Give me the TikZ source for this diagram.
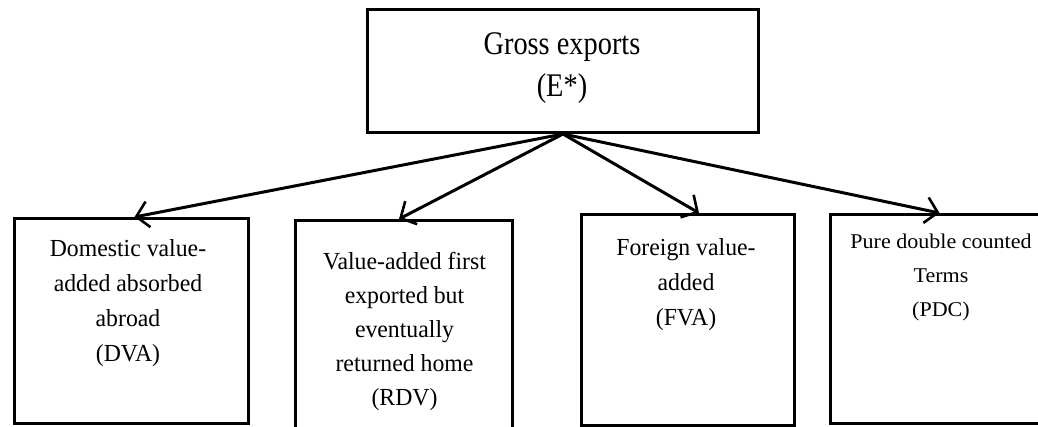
\documentclass[tikz,border=0pt]{standalone}
\usepackage{fontspec}
\setmainfont{Liberation Serif}
\newfontfamily\topfont[FakeStretch=0.86]{Liberation Serif}
\newfontfamily\boxfont[FakeStretch=0.97]{Liberation Serif}
\newfontfamily\pdcfont[FakeStretch=1.05]{Liberation Serif}
\usetikzlibrary{arrows.meta}
\tikzset{
  boxshape/.style={draw=black, line width=3pt, rectangle, inner sep=0pt, anchor=north west},
  toptext/.style={inner sep=0pt, anchor=north, align=center, font=\topfont\fontsize{33}{42}\selectfont},
  boxtext/.style={inner sep=0pt, anchor=north, align=center, font=\boxfont\fontsize{24.5}{35}\selectfont},
  boxtextb/.style={inner sep=0pt, anchor=north, align=center, font=\boxfont\fontsize{24.5}{34}\selectfont},
  pdctext/.style={inner sep=0pt, anchor=north, align=center, font=\pdcfont\fontsize{21}{34}\selectfont},
  arr/.style={draw=black, line width=3pt, -{Straight Barb[length=12pt,width=26pt,line width=2.6pt]}}
}
\begin{document}
\begin{tikzpicture}[x=1pt,y=-1pt]
\fill[white] (0,0) rectangle (1038,426);
\clip (0,0) rectangle (1038,426);
% boxes
\node[boxshape, minimum width=391pt, minimum height=123pt] (top) at (366,8) {};
\node[boxshape, minimum width=234pt, minimum height=205pt] (dva) at (13,217) {};
\node[boxshape, minimum width=217pt, minimum height=230pt] (rdv) at (294,219) {};
\node[boxshape, minimum width=213pt, minimum height=211pt] (fva) at (580,213) {};
\node[boxshape, minimum width=218pt, minimum height=209pt] (pdc) at (829,213) {};
% texts
\node[toptext] (toplabel) at (562,32) {Gross exports\\(E*)};
\node[boxtext] (dvalabel) at (128,239) {Domestic value-\\added absorbed\\abroad\\(DVA)};
\node[boxtextb] (rdvlabel) at (404.5,252) {Value-added first\\exported but\\eventually\\returned home\\(RDV)};
\node[boxtext] (fvalabel) at (686,238) {Foreign value-\\added\\(FVA)};
\node[pdctext] (pdclabel) at (941,234) {Pure double counted\\Terms\\(PDC)};
% connectors
\draw[arr] (top.south) -- ([xshift=3pt]dva.north);
\draw[arr] (top.south) -- ([xshift=-5pt]rdv.north);
\draw[arr] (top.south) -- ([xshift=11pt]fva.north);
\draw[arr] (top.south) -- (pdc.north);
\end{tikzpicture}
\end{document}
